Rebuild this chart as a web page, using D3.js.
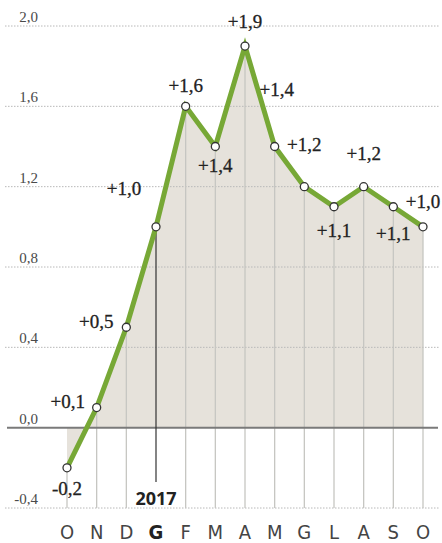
<!DOCTYPE html>
<html>
<head>
<meta charset="utf-8">
<script src="https://cdn.jsdelivr.net/npm/d3@7"></script>
<style>
    body { margin: 0; background: #fff; }
    svg { display: block; }
</style>
</head>
<body>
<script>
var months = ['O', 'N', 'D', 'G', 'F', 'M', 'A', 'M', 'G', 'L', 'A', 'S', 'O'],
    values = [-0.2, 0.1, 0.5, 1.0, 1.6, 1.4, 1.9, 1.4, 1.2, 1.1, 1.2, 1.1, 1.0],
    valueLabels = ['-0,2', '+0,1', '+0,5', '+1,0', '+1,6', '+1,4', '+1,9', '+1,4', '+1,2', '+1,1', '+1,2', '+1,1', '+1,0'],
    yTicks = [-0.4, 0, 0.4, 0.8, 1.2, 1.6, 2.0],
    yTickLabels = ['-0,4', '0,0', '0,4', '0,8', '1,2', '1,6', '2,0'],
    yearIndex = 3,
    yearLabel = '2017';

// label offsets relative to each point [dx, dy], anchor middle
var labelPos = [
    [0, 21], [-29, -6], [-30, -6], [-32, -38], [0, -21], [0, 19],
    [0, -25], [2, -57], [0, -42], [0, 24], [0, -33], [0, 27], [0, -25]
];

var width = 442,
    height = 543;

var x = d3.scalePoint()
    .domain(d3.range(months.length))
    .range([67, 423]);

var y = d3.scaleLinear()
    .domain([-0.4, 2.0])
    .range([508, 26]);

var svg = d3.select('body').append('svg')
    .attr('width', width)
    .attr('height', height);

// area under the curve
var area = d3.area()
    .x(function(d, i) { return x(i); })
    .y0(y(0))
    .y1(function(d) { return d; });

svg.append('path')
    .datum(values.map(function(v) { return y(v); }))
    .attr('fill', '#e6e2db')
    .attr('d', area);

// dotted gridlines
var grid = svg.append('g').attr('class', 'grid');

grid.selectAll('line')
    .data(yTicks.filter(function(t) { return t !== 0; }))
    .enter()
    .append('line')
    .attr('x1', 5)
    .attr('x2', 440)
    .attr('y1', function(d) { return y(d); })
    .attr('y2', function(d) { return y(d); })
    .attr('stroke', '#b8b8b8')
    .attr('stroke-width', 1)
    .attr('stroke-dasharray', '1.5,1.5');

grid.selectAll('text')
    .data(yTicks)
    .enter()
    .append('text')
    .attr('x', 38)
    .attr('y', function(d) { return y(d) - 4; })
    .attr('text-anchor', 'end')
    .attr('font-family', '"Liberation Serif", serif')
    .attr('font-size', 15)
    .attr('fill', '#4a4a4a')
    .text(function(d, i) { return yTickLabels[i]; });

// vertical month lines
svg.append('g')
    .selectAll('line')
    .data(values)
    .enter()
    .append('line')
    .attr('x1', function(d, i) { return x(i); })
    .attr('x2', function(d, i) { return x(i); })
    .attr('y1', function(d) { return y(d); })
    .attr('y2', y(-0.4))
    .attr('stroke', function(d, i) { return i === yearIndex ? 'none' : '#c6c6c2'; })
    .attr('stroke-width', 1.3);

// zero line
svg.append('line')
    .attr('x1', 7)
    .attr('x2', 438)
    .attr('y1', y(0))
    .attr('y2', y(0))
    .attr('stroke', '#7a7a7a')
    .attr('stroke-width', 2);

// year marker
svg.append('line')
    .attr('x1', x(yearIndex))
    .attr('x2', x(yearIndex))
    .attr('y1', y(values[yearIndex]))
    .attr('y2', 482)
    .attr('stroke', '#333')
    .attr('stroke-width', 1.2);

svg.append('text')
    .attr('x', x(yearIndex))
    .attr('y', 505)
    .attr('text-anchor', 'middle')
    .attr('font-family', '"Open Sans", "DejaVu Sans", sans-serif')
    .attr('font-weight', 'bold')
    .attr('font-size', 18)
    .attr('fill', '#222')
    .text(yearLabel);

// line
var line = d3.line()
    .x(function(d, i) { return x(i); })
    .y(function(d) { return y(d); });

svg.append('path')
    .datum(values)
    .attr('fill', 'none')
    .attr('stroke', '#77a836')
    .attr('stroke-width', 5)
    .attr('stroke-linejoin', 'miter')
    .attr('d', line);

svg.append('g')
    .selectAll('circle')
    .data(values)
    .enter()
    .append('circle')
    .attr('cx', function(d, i) { return x(i); })
    .attr('cy', function(d) { return y(d); })
    .attr('r', 4)
    .attr('fill', '#fff')
    .attr('stroke', '#333')
    .attr('stroke-width', 1.3);

// value labels
svg.append('g')
    .selectAll('text')
    .data(values)
    .enter()
    .append('text')
    .attr('x', function(d, i) { return x(i) + labelPos[i][0]; })
    .attr('y', function(d, i) { return y(d) + labelPos[i][1]; })
    .attr('dy', '0.35em')
    .attr('text-anchor', 'middle')
    .attr('font-family', '"Liberation Serif", serif')
    .attr('font-size', 19)
    .attr('fill', '#222')
    .attr('stroke', '#222')
    .attr('stroke-width', 0.3)
    .text(function(d, i) { return valueLabels[i]; });

// month axis
svg.append('g')
    .selectAll('text')
    .data(months)
    .enter()
    .append('text')
    .attr('x', function(d, i) { return x(i); })
    .attr('y', 539)
    .attr('text-anchor', 'middle')
    .attr('font-family', '"Liberation Sans Narrow", "DejaVu Sans Condensed", Roboto, sans-serif')
    .attr('font-size', 20)
    .attr('font-weight', function(d, i) { return i === yearIndex ? 'bold' : 'normal'; })
    .attr('fill', function(d, i) { return i === yearIndex ? '#222' : '#444'; })
    .text(function(d) { return d; });
</script>
</body>
</html>
